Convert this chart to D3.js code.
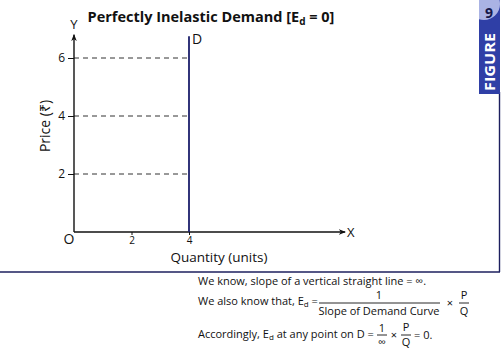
<!DOCTYPE html>
<html>
<head>
<meta charset="utf-8">
<script src="https://cdn.jsdelivr.net/npm/d3@7"></script>
<style>
  body { margin: 0; background: #fff; }
  svg { display: block; font-family: 'Open Sans', sans-serif; }
</style>
</head>
<body>
<div id="chart"></div>
<script>
// data
const xTicks = [2, 4]
const yTicks = [2, 4, 6]
const priceLevels = [2, 4, 6]
const demandQty = 4
const demandTop = 6.75
const xMax = 9.43
const yMax = 6.8

const width = 502
const height = 352
const origin = { x: 74, y: 232 }

const svg = d3.select('#chart')
  .append('svg')
  .attr('width', width)
  .attr('height', height)

const x = d3.scaleLinear().domain([0, xMax]).range([origin.x, origin.x + xMax * 28.75])
const y = d3.scaleLinear().domain([0, yMax]).range([origin.y, origin.y - yMax * 29])

const defs = svg.append('defs')
defs.append('marker')
  .attr('id', 'arrow')
  .attr('viewBox', '0 0 10 10')
  .attr('refX', 9)
  .attr('refY', 5)
  .attr('markerWidth', 7)
  .attr('markerHeight', 7)
  .attr('markerUnits', 'userSpaceOnUse')
  .attr('orient', 'auto')
  .append('path')
  .attr('d', 'M0,1 L10,5 L0,9 L3,5 Z')
  .attr('fill', '#111')

defs.append('clipPath')
  .attr('id', 'tabclip')
  .append('rect')
  .attr('x', 479).attr('y', 0).attr('width', 21).attr('height', 94)

// frame
svg.append('line')
  .attr('x1', 0).attr('x2', 500).attr('y1', 272).attr('y2', 272)
  .attr('stroke', '#1c1f5e').attr('stroke-width', 1.6)
svg.append('line')
  .attr('x1', 499.5).attr('x2', 499.5).attr('y1', 92).attr('y2', 272)
  .attr('stroke', '#1c1f5e').attr('stroke-width', 1.4)

// figure tab
const tab = svg.append('g').attr('clip-path', 'url(#tabclip)')
tab.append('rect')
  .attr('x', 479).attr('y', 0).attr('width', 21).attr('height', 94)
  .attr('fill', '#2f3fa6')
tab.append('circle')
  .attr('cx', 484).attr('cy', 4).attr('r', 16)
  .attr('fill', '#aab3e4')
tab.append('text')
  .attr('x', 489).attr('y', 18)
  .attr('text-anchor', 'middle')
  .attr('font-size', 14).attr('font-weight', 700)
  .attr('fill', '#15184a')
  .text('9')
tab.append('text')
  .attr('transform', 'translate(495,62) rotate(-90)')
  .attr('text-anchor', 'middle')
  .attr('font-size', 15).attr('font-weight', 700)
  .attr('textLength', 58).attr('lengthAdjust', 'spacingAndGlyphs')
  .attr('fill', '#fff')
  .text('FIGURE')

// title
const title = svg.append('text')
  .attr('x', 211).attr('y', 22)
  .attr('text-anchor', 'middle')
  .attr('font-size', 14.5).attr('font-weight', 700)
  .attr('fill', '#111')
title.append('tspan').text('Perfectly Inelastic Demand [E')
title.append('tspan').attr('font-size', 10).attr('dy', 3).text('d')
title.append('tspan').attr('dy', -3).text(' = 0]')

// dashed guides
svg.selectAll('.guide')
  .data(priceLevels)
  .join('line')
  .attr('class', 'guide')
  .attr('x1', x(0)).attr('x2', x(demandQty))
  .attr('y1', d => y(d)).attr('y2', d => y(d))
  .attr('stroke', '#333').attr('stroke-width', 1)
  .attr('stroke-dasharray', '5,4')

// axes
const xAxis = d3.axisBottom(x).tickValues(xTicks).tickFormat(d3.format('d')).tickSize(3).tickPadding(2)
const yAxis = d3.axisLeft(y).tickValues(yTicks).tickFormat(d3.format('d')).tickSize(6).tickPadding(3)

const gx = svg.append('g')
  .attr('transform', `translate(0,${origin.y})`)
  .call(xAxis)
gx.select('.domain').remove()
gx.selectAll('text').attr('font-size', 10).attr('fill', '#111').attr('font-family', "'Open Sans', sans-serif")
gx.selectAll('line').attr('stroke', '#111')

const gy = svg.append('g')
  .attr('transform', `translate(${origin.x},0)`)
  .call(yAxis)
gy.select('.domain').remove()
gy.selectAll('text').attr('font-size', 12).attr('fill', '#111').attr('font-family', "'Open Sans', sans-serif")
gy.selectAll('line').attr('stroke', '#111')

svg.append('line')
  .attr('x1', x(0)).attr('x2', x(xMax))
  .attr('y1', y(0)).attr('y2', y(0))
  .attr('stroke', '#111').attr('stroke-width', 1.4)
  .attr('marker-end', 'url(#arrow)')
svg.append('line')
  .attr('x1', x(0)).attr('x2', x(0))
  .attr('y1', y(0)).attr('y2', y(yMax))
  .attr('stroke', '#111').attr('stroke-width', 1.4)
  .attr('marker-end', 'url(#arrow)')

// demand curve
svg.append('line')
  .attr('x1', x(demandQty)).attr('x2', x(demandQty))
  .attr('y1', y(0)).attr('y2', y(demandTop))
  .attr('stroke', '#1b1f6b').attr('stroke-width', 1.8)
svg.append('text')
  .attr('x', x(demandQty) + 3).attr('y', y(demandTop) + 8)
  .attr('font-size', 14).attr('fill', '#111')
  .text('D')

// axis letters and labels
svg.append('text').attr('x', x(0)).attr('y', y(yMax) - 6)
  .attr('text-anchor', 'middle').attr('font-size', 13).attr('fill', '#111').text('Y')
svg.append('text').attr('x', x(xMax) + 2).attr('y', y(0) + 5)
  .attr('font-size', 13).attr('fill', '#111').text('X')
svg.append('text').attr('x', x(0) - 5).attr('y', y(0) + 12)
  .attr('text-anchor', 'middle').attr('font-size', 14).attr('fill', '#111').text('O')
svg.append('text').attr('x', 219).attr('y', 261.5)
  .attr('text-anchor', 'middle').attr('font-size', 13.5).attr('fill', '#111').text('Quantity (units)')
svg.append('text')
  .attr('transform', 'translate(50,126) rotate(-90)')
  .attr('text-anchor', 'middle').attr('font-size', 14).attr('fill', '#111').text('Price (₹)')

// explanation
const note = svg.append('g')
  .attr('font-size', 11).attr('fill', '#111')
  .attr('font-family', "'Open Sans', sans-serif")

note.append('text').attr('x', 198).attr('y', 285)
  .text('We know, slope of a vertical straight line = ∞.')

const l2 = note.append('text').attr('x', 198).attr('y', 305)
l2.append('tspan').text('We also know that, E')
l2.append('tspan').attr('font-size', 8).attr('dy', 2).text('d')
l2.append('tspan').attr('dy', -2).text(' =')
note.append('text').attr('x', 379).attr('y', 299).attr('text-anchor', 'middle').text('1')
note.append('line').attr('x1', 319).attr('x2', 440).attr('y1', 303).attr('y2', 303)
  .attr('stroke', '#111').attr('stroke-width', 0.9)
note.append('text').attr('x', 379).attr('y', 315).attr('text-anchor', 'middle').text('Slope of Demand Curve')
note.append('text').attr('x', 450).attr('y', 307).attr('text-anchor', 'middle').text('×')
note.append('text').attr('x', 464).attr('y', 299).attr('text-anchor', 'middle').text('P')
note.append('line').attr('x1', 459).attr('x2', 469).attr('y1', 303).attr('y2', 303)
  .attr('stroke', '#111').attr('stroke-width', 0.9)
note.append('text').attr('x', 464).attr('y', 315).attr('text-anchor', 'middle').text('Q')

const l3 = note.append('text').attr('x', 198).attr('y', 338)
l3.append('tspan').text('Accordingly, E')
l3.append('tspan').attr('font-size', 8).attr('dy', 2).text('d')
l3.append('tspan').attr('dy', -2).text(' at any point on D =')
note.append('text').attr('x', 382).attr('y', 332).attr('text-anchor', 'middle').text('1')
note.append('line').attr('x1', 377).attr('x2', 387).attr('y1', 335).attr('y2', 335)
  .attr('stroke', '#111').attr('stroke-width', 0.9)
note.append('text').attr('x', 382).attr('y', 346).attr('text-anchor', 'middle').text('∞')
note.append('text').attr('x', 394).attr('y', 339).attr('text-anchor', 'middle').text('×')
note.append('text').attr('x', 406).attr('y', 331).attr('text-anchor', 'middle').text('P')
note.append('line').attr('x1', 401).attr('x2', 411).attr('y1', 335).attr('y2', 335)
  .attr('stroke', '#111').attr('stroke-width', 0.9)
note.append('text').attr('x', 406).attr('y', 346).attr('text-anchor', 'middle').text('Q')
note.append('text').attr('x', 414).attr('y', 339).text('= 0.')
</script>
</body>
</html>
